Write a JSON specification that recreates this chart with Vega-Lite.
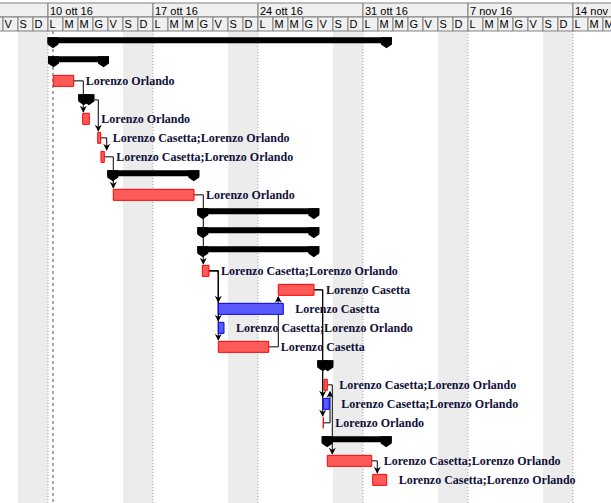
{
  "$schema": "https://vega.github.io/schema/vega-lite/v6.json",
  "width": 611,
  "height": 503,
  "padding": 0,
  "autosize": {"type": "none"},
  "background": "white",
  "config": {"view": {"stroke": null}},
  "datasets": {
    "weekends": [
      {"start": -2, "end": 0}, {"start": 5, "end": 7}, {"start": 12, "end": 14},
      {"start": 19, "end": 21}, {"start": 26, "end": 28}, {"start": 33, "end": 35}
    ],
    "weeks": [
      {"start": -7, "end": 0, "label": "3 ott 16"},
      {"start": 0, "end": 7, "label": "10 ott 16"},
      {"start": 7, "end": 14, "label": "17 ott 16"},
      {"start": 14, "end": 21, "label": "24 ott 16"},
      {"start": 21, "end": 28, "label": "31 ott 16"},
      {"start": 28, "end": 35, "label": "7 nov 16"},
      {"start": 35, "end": 42, "label": "14 nov 16"}
    ],
    "days": [
      {"start": -4, "end": -3, "day": "G"}, {"start": -3, "end": -2, "day": "V"},
      {"start": -2, "end": -1, "day": "S"}, {"start": -1, "end": 0, "day": "D"},
      {"start": 0, "end": 1, "day": "L"}, {"start": 1, "end": 2, "day": "M"},
      {"start": 2, "end": 3, "day": "M"}, {"start": 3, "end": 4, "day": "G"},
      {"start": 4, "end": 5, "day": "V"}, {"start": 5, "end": 6, "day": "S"},
      {"start": 6, "end": 7, "day": "D"}, {"start": 7, "end": 8, "day": "L"},
      {"start": 8, "end": 9, "day": "M"}, {"start": 9, "end": 10, "day": "M"},
      {"start": 10, "end": 11, "day": "G"}, {"start": 11, "end": 12, "day": "V"},
      {"start": 12, "end": 13, "day": "S"}, {"start": 13, "end": 14, "day": "D"},
      {"start": 14, "end": 15, "day": "L"}, {"start": 15, "end": 16, "day": "M"},
      {"start": 16, "end": 17, "day": "M"}, {"start": 17, "end": 18, "day": "G"},
      {"start": 18, "end": 19, "day": "V"}, {"start": 19, "end": 20, "day": "S"},
      {"start": 20, "end": 21, "day": "D"}, {"start": 21, "end": 22, "day": "L"},
      {"start": 22, "end": 23, "day": "M"}, {"start": 23, "end": 24, "day": "M"},
      {"start": 24, "end": 25, "day": "G"}, {"start": 25, "end": 26, "day": "V"},
      {"start": 26, "end": 27, "day": "S"}, {"start": 27, "end": 28, "day": "D"},
      {"start": 28, "end": 29, "day": "L"}, {"start": 29, "end": 30, "day": "M"},
      {"start": 30, "end": 31, "day": "M"}, {"start": 31, "end": 32, "day": "G"},
      {"start": 32, "end": 33, "day": "V"}, {"start": 33, "end": 34, "day": "S"},
      {"start": 34, "end": 35, "day": "D"}, {"start": 35, "end": 36, "day": "L"},
      {"start": 36, "end": 37, "day": "M"}, {"start": 37, "end": 38, "day": "M"}
    ],
    "tasks": [
      {"row": 0, "kind": "summary", "start": -0.033, "end": 22.933},
      {"row": 1, "kind": "summary", "start": 0, "end": 4.067},
      {"row": 2, "kind": "task", "critical": true, "start": 0.353, "end": 1.713, "res": "Lorenzo Orlando"},
      {"row": 3, "kind": "summary", "start": 2.02, "end": 3.087},
      {"row": 4, "kind": "task", "critical": true, "start": 2.313, "end": 2.753, "res": "Lorenzo Orlando"},
      {"row": 5, "kind": "task", "critical": true, "start": 3.313, "end": 3.513, "res": "Lorenzo Casetta;Lorenzo Orlando"},
      {"row": 6, "kind": "task", "critical": true, "start": 3.533, "end": 3.753, "res": "Lorenzo Casetta;Lorenzo Orlando"},
      {"row": 7, "kind": "summary", "start": 3.953, "end": 10.087},
      {"row": 8, "kind": "task", "critical": true, "start": 4.353, "end": 9.733, "res": "Lorenzo Orlando"},
      {"row": 9, "kind": "summary", "start": 9.953, "end": 18.087},
      {"row": 10, "kind": "summary", "start": 9.953, "end": 18.087},
      {"row": 11, "kind": "summary", "start": 9.953, "end": 18.087},
      {"row": 12, "kind": "task", "critical": true, "start": 10.287, "end": 10.733, "res": "Lorenzo Casetta;Lorenzo Orlando"},
      {"row": 13, "kind": "task", "critical": true, "start": 15.353, "end": 17.733, "res": "Lorenzo Casetta"},
      {"row": 14, "kind": "task", "critical": false, "start": 11.353, "end": 15.687, "res": "Lorenzo Casetta"},
      {"row": 15, "kind": "task", "critical": false, "start": 11.353, "end": 11.733, "res": "Lorenzo Casetta;Lorenzo Orlando"},
      {"row": 16, "kind": "task", "critical": true, "start": 11.353, "end": 14.713, "res": "Lorenzo Casetta"},
      {"row": 17, "kind": "summary", "start": 17.953, "end": 19.02},
      {"row": 18, "kind": "task", "critical": true, "start": 18.4, "end": 18.62, "res": "Lorenzo Casetta;Lorenzo Orlando"},
      {"row": 19, "kind": "task", "critical": false, "start": 18.353, "end": 18.753, "res": "Lorenzo Casetta;Lorenzo Orlando"},
      {"row": 20, "kind": "task", "critical": true, "start": 18.353, "end": 18.353, "res": "Lorenzo Orlando"},
      {"row": 21, "kind": "summary", "start": 18.247, "end": 22.913},
      {"row": 22, "kind": "task", "critical": true, "start": 18.62, "end": 21.58, "res": "Lorenzo Casetta;Lorenzo Orlando"},
      {"row": 23, "kind": "task", "critical": true, "start": 21.647, "end": 22.58, "res": "Lorenzo Casetta;Lorenzo Orlando"}
    ],
    "links": [
      {"x1": 1.713, "xv": 2.353, "r1": 2, "r2": 4, "dir": "down"},
      {"x1": 3.087, "xv": 3.353, "r1": 3, "r2": 5, "dir": "down"},
      {"x1": 3.513, "xv": 3.913, "r1": 5, "r2": 6, "dir": "down"},
      {"x1": 3.753, "xv": 4.353, "r1": 6, "r2": 8, "dir": "down"},
      {"x1": 9.733, "xv": 10.353, "r1": 8, "r2": 12, "dir": "down"},
      {"x1": 10.733, "xv": 11.353, "r1": 12, "r2": 14, "dir": "down"},
      {"x1": 10.733, "xv": 11.353, "r1": 12, "r2": 15, "dir": "down"},
      {"x1": 10.733, "xv": 11.353, "r1": 12, "r2": 16, "dir": "down"},
      {"x1": 14.713, "xv": 15.353, "r1": 16, "r2": 13, "dir": "up"},
      {"x1": 17.733, "xv": 18.313, "r1": 13, "r2": 19, "dir": "down"},
      {"x1": 17.733, "xv": 18.313, "r1": 13, "r2": 20, "dir": "down"},
      {"x1": 18.353, "xv": 18.8, "r1": 20, "r2": 18, "dir": "up"},
      {"x1": 18.62, "xv": 18.953, "r1": 18, "r2": 22, "dir": "down"},
      {"x1": 21.58, "xv": 21.953, "r1": 22, "r2": 23, "dir": "down"}
    ]
  },
  "layer": [
    {
      "data": {"name": "weekends"},
      "mark": {"type": "rect", "fill": "#ececec"},
      "encoding": {
        "x": {"field": "start", "type": "quantitative", "scale": {"domain": [-3.2, 37.5333], "nice": false, "zero": false, "padding": 0}, "axis": null},
        "x2": {"field": "end"},
        "y": {"datum": -0.624, "type": "quantitative", "scale": {"domain": [-2.2553, 24.2184], "nice": false, "zero": false, "reverse": true, "padding": 0}, "axis": null},
        "y2": {"datum": 24.3}
      }
    },
    {
      "data": {"name": "weeks"},
      "mark": {"type": "rule", "stroke": "#a0a0a0", "strokeDash": [1, 2], "strokeWidth": 1},
      "encoding": {
        "x": {"field": "start", "type": "quantitative"},
        "y": {"datum": -0.624, "type": "quantitative"},
        "y2": {"datum": 24.3}
      }
    },
    {
      "data": {"values": [{"projectStart": 0.3333}]},
      "mark": {"type": "rule", "stroke": "#505050", "strokeDash": [3, 3], "strokeWidth": 1},
      "encoding": {
        "x": {"field": "projectStart", "type": "quantitative"},
        "y": {"datum": -0.624, "type": "quantitative"},
        "y2": {"datum": 24.3}
      }
    },
    {
      "data": {"name": "weeks"},
      "mark": {"type": "rect", "fill": "#f0f0f0", "stroke": "#808080", "strokeWidth": 1},
      "encoding": {
        "x": {"field": "start", "type": "quantitative"},
        "x2": {"field": "end"},
        "y": {"datum": -2.097, "type": "quantitative"},
        "y2": {"datum": -1.361}
      }
    },
    {
      "data": {"name": "days"},
      "mark": {"type": "rect", "fill": "#f0f0f0", "stroke": "#808080", "strokeWidth": 1},
      "encoding": {
        "x": {"field": "start", "type": "quantitative"},
        "x2": {"field": "end"},
        "y": {"datum": -1.361, "type": "quantitative"},
        "y2": {"datum": -0.624}
      }
    },
    {
      "data": {"name": "weeks"},
      "transform": [{"filter": "datum.start >= 0"}],
      "mark": {"type": "text", "align": "left", "baseline": "middle", "dx": 2, "font": "Liberation Sans", "fontSize": 11, "color": "#000000", "clip": true},
      "encoding": {
        "x": {"field": "start", "type": "quantitative"},
        "y": {"datum": -1.62, "type": "quantitative"},
        "text": {"field": "label"}
      }
    },
    {
      "data": {"name": "days"},
      "transform": [{"filter": "datum.start >= -3"}],
      "mark": {"type": "text", "align": "left", "baseline": "middle", "dx": 1.5, "font": "Liberation Sans", "fontSize": 11, "color": "#000000", "clip": true},
      "encoding": {
        "x": {"field": "start", "type": "quantitative"},
        "y": {"datum": -0.92, "type": "quantitative"},
        "text": {"field": "day"}
      }
    },
    {
      "data": {"name": "links"},
      "mark": {"type": "rule", "stroke": "#000000", "strokeWidth": 1},
      "encoding": {
        "x": {"field": "x1", "type": "quantitative"},
        "x2": {"field": "xv"},
        "y": {"field": "r1", "type": "quantitative"}
      }
    },
    {
      "data": {"name": "links"},
      "transform": [{"filter": "datum.dir === 'down'"}],
      "mark": {"type": "rule", "stroke": "#000000", "strokeWidth": 1, "y2Offset": -7},
      "encoding": {
        "x": {"field": "xv", "type": "quantitative"},
        "y": {"field": "r1", "type": "quantitative"},
        "y2": {"field": "r2"}
      }
    },
    {
      "data": {"name": "links"},
      "transform": [{"filter": "datum.dir === 'up'"}],
      "mark": {"type": "rule", "stroke": "#000000", "strokeWidth": 1, "y2Offset": 7},
      "encoding": {
        "x": {"field": "xv", "type": "quantitative"},
        "y": {"field": "r1", "type": "quantitative"},
        "y2": {"field": "r2"}
      }
    },
    {
      "data": {"name": "tasks"},
      "transform": [{"filter": "datum.kind === 'summary'"}],
      "mark": {"type": "bar", "orient": "horizontal", "size": 6, "yOffset": -2.5, "color": "#000000"},
      "encoding": {
        "x": {"field": "start", "type": "quantitative"},
        "x2": {"field": "end"},
        "y": {"field": "row", "type": "quantitative"}
      }
    },
    {
      "data": {"name": "tasks"},
      "transform": [{"filter": "datum.kind === 'summary'"}],
      "mark": {"type": "point", "shape": "M-1,-1L1,-1L1,0.3L0,1L-1,0.3Z", "filled": true, "size": 121, "opacity": 1, "color": "#000000", "strokeWidth": 0, "xOffset": 5.5},
      "encoding": {
        "x": {"field": "start", "type": "quantitative"},
        "y": {"field": "row", "type": "quantitative"}
      }
    },
    {
      "data": {"name": "tasks"},
      "transform": [{"filter": "datum.kind === 'summary'"}],
      "mark": {"type": "point", "shape": "M-1,-1L1,-1L1,0.3L0,1L-1,0.3Z", "filled": true, "size": 121, "opacity": 1, "color": "#000000", "strokeWidth": 0, "xOffset": -5.5},
      "encoding": {
        "x": {"field": "end", "type": "quantitative"},
        "y": {"field": "row", "type": "quantitative"}
      }
    },
    {
      "data": {"name": "tasks"},
      "transform": [{"filter": "datum.kind === 'task'"}],
      "mark": {"type": "bar", "orient": "horizontal", "size": 11, "strokeWidth": 1, "opacity": 1},
      "encoding": {
        "x": {"field": "start", "type": "quantitative"},
        "x2": {"field": "end"},
        "y": {"field": "row", "type": "quantitative"},
        "fill": {"field": "critical", "type": "nominal", "scale": {"domain": [true, false], "range": ["#ff5a5a", "#5a5aff"]}, "legend": null},
        "stroke": {"field": "critical", "type": "nominal", "scale": {"domain": [true, false], "range": ["#ff0000", "#0000ff"]}, "legend": null}
      }
    },
    {
      "data": {"name": "links"},
      "transform": [{"filter": "datum.dir === 'down'"}],
      "mark": {"type": "point", "shape": "M-1,-1L0,-0.4L1,-1L0,1Z", "filled": true, "size": 49, "opacity": 1, "color": "#000000", "strokeWidth": 0, "yOffset": -9.5},
      "encoding": {
        "x": {"field": "xv", "type": "quantitative"},
        "y": {"field": "r2", "type": "quantitative"}
      }
    },
    {
      "data": {"name": "links"},
      "transform": [{"filter": "datum.dir === 'up'"}],
      "mark": {"type": "point", "shape": "M-1,1L0,0.4L1,1L0,-1Z", "filled": true, "size": 49, "opacity": 1, "color": "#000000", "strokeWidth": 0, "yOffset": 9.5},
      "encoding": {
        "x": {"field": "xv", "type": "quantitative"},
        "y": {"field": "r2", "type": "quantitative"}
      }
    },
    {
      "data": {"name": "tasks"},
      "transform": [{"filter": "datum.kind === 'task'"}],
      "mark": {"type": "text", "align": "left", "baseline": "middle", "dx": 12, "font": "Liberation Serif", "fontWeight": "bold", "fontSize": 12, "color": "#10103a"},
      "encoding": {
        "x": {"field": "end", "type": "quantitative"},
        "y": {"field": "row", "type": "quantitative"},
        "text": {"field": "res"}
      }
    }
  ]
}
